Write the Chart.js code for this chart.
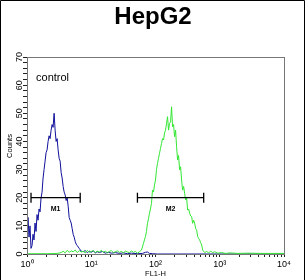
<!DOCTYPE html>
<html><head><meta charset="utf-8">
<script src="https://cdn.jsdelivr.net/npm/chart.js@4/dist/chart.umd.min.js"></script>
<style>html,body{margin:0;padding:0;background:#fff}#wrap{width:306px;height:280px;position:relative}</style>
</head><body><div id="wrap"><canvas id="c" width="306" height="280"></canvas></div>
<script>
// ---- data (FL1-H channel, 0..256 = 10^0..10^4) ----
const chartTitle = 'HepG2';
const xTitle = 'FL1-H';
const yTitle = 'Counts';
const xTickChannels = [0, 64, 128, 192, 256];
const xTickLabels = ['10\u2070', '10\u00B9', '10\u00B2', '10\u00B3', '10\u2074'];
const yTickValues = [0, 10, 20, 30, 40, 50, 60, 70];

const controlChannels = [0,1,2,3,4,5,6,7,8,9,10,11,12,13,14,15,16,17,18,19,20,21,22,23,24,25,26,27,28,29,30,31,32,33,34,35,36,37,38,39,40,41,42,43,44,45,46,47,48,49,50,52,54,56,58,60,62,64,66,68,70,72,75,78,81,84,88,92,96,100,104,110,115,118,120,122,125,130,150,180,220,256];
const controlCounts   = [4,13,6,10,2,3,7,5,11,8,14,12,16,15,20,22,27,30,33,36,37,40,42,41,44,46,45,50,44,40,41,37,34,33,29,27,24,22,21,19,20,17,13,12,11,9,7,6,4.5,3.5,3,2,1,0.8,1.2,0.5,1,0.6,1.1,0.4,0.8,0.5,0.9,0.3,0.6,0.3,0.5,0.2,0.4,0.1,0.3,0.1,0.2,0.6,0.7,0.2,0.1,0,0,0,0,0];

const sampleChannels = [0,10,20,30,34,36,38,40,42,44,46,48,50,52,54,56,58,60,62,64,66,68,70,72,74,76,78,80,82,84,86,88,90,92,94,96,98,100,102,104,106,108,110,112,114,115,116,117,118,119,120,121,122,123,124,125,126,127,128,129,130,131,132,133,134,135,136,137,138,139,140,141,142,143,144,145,146,147,148,149,150,151,152,153,154,155,156,157,158,159,160,161,162,163,164,165,166,167,168,169,170,171,172,173,174,175,177,179,181,183,185,187,190,194,198,202,210,220,235,256];
const sampleCounts   = [0.1,0.1,0.1,0.2,0.5,1.0,0.4,1.3,0.6,1.1,0.8,1.4,0.5,1.2,0.7,1.0,0.4,1.3,0.6,0.9,1.2,0.5,1.0,0.7,1.3,0.6,1.0,0.4,0.9,1.2,0.5,0.8,1.1,0.6,0.9,0.4,1.0,0.7,0.5,1.1,0.6,0.9,0.3,0.8,1.4,2.5,3.8,5,6.2,8,10.9,12.5,14.5,16,18,22.7,22,24.5,26.3,30,32.2,34,35.8,37.5,39.3,41,40.5,43,44,46.4,48.8,44,46.4,47,52.3,45.2,46,41.7,44,38.1,33.4,35,29.9,31,26.3,22.7,24,21.6,19.2,20,15.6,16,14.5,13.5,13.3,10.9,12,11,9,8.5,6.2,5.5,5,4,3.2,1.4,0.5,0.9,0.4,1.0,0.5,0.8,0.3,0.5,0.2,0.4,0.2,0.3,0.2,0.2];

const markerLabels = ['M1', 'M2'];
const markerStart = [4, 110];
const markerEnd   = [53, 176];
const markerLevel = 20;

const ctrlBlue = '#10109a';
const sampleGreen = '#33e633';

function pairs(xs, ys){ return xs.map((x,i)=>({x:x, y:ys[i]})); }

const datasets = [
  {label:'control', data:pairs(controlChannels, controlCounts), borderColor:ctrlBlue, borderWidth:1, pointRadius:0, tension:0, order:2},
  {label:'sample', data:pairs(sampleChannels, sampleCounts), borderColor:sampleGreen, borderWidth:1, pointRadius:0, tension:0, order:1},
];
markerLabels.forEach((m,i)=>{
  datasets.push({label:m, data:[{x:markerStart[i], y:markerLevel},{x:markerEnd[i], y:markerLevel}],
    borderColor:'#000', borderWidth:1.3, pointStyle:'line', pointRotation:90, pointRadius:5,
    pointBorderColor:'#000', pointBorderWidth:1.3, tension:0, order:0});
});

const decorPlugin = {
  id:'decor',
  afterDraw(chart){
    const ctx = chart.ctx, a = chart.chartArea, xs = chart.scales.x, ys = chart.scales.y;
    ctx.save();
    // frame
    ctx.strokeStyle = '#777'; ctx.lineWidth = 1;
    ctx.strokeRect(a.left + 0.5, a.top + 0.5, a.right - a.left, a.bottom - a.top);
    // outer border
    ctx.strokeStyle = '#000';
    ctx.beginPath(); ctx.moveTo(0.5, 280); ctx.lineTo(0.5, 0.5); ctx.lineTo(304.5, 0.5); ctx.lineTo(304.5, 280); ctx.stroke();
    ctx.fillStyle = '#000';
    // title
    ctx.font = 'bold 24px "Liberation Sans", Arial, sans-serif';
    ctx.textAlign = 'center'; ctx.textBaseline = 'alphabetic';
    ctx.fillText(chartTitle, 153, 24);
    // control label
    ctx.font = '11px "Liberation Sans", Arial, sans-serif';
    ctx.textAlign = 'left';
    ctx.fillText('control', xs.getPixelForValue(9), ys.getPixelForValue(61.5));
    // marker labels
    ctx.font = 'bold 7px "Liberation Sans", Arial, sans-serif';
    ctx.textAlign = 'center'; ctx.textBaseline = 'middle';
    markerLabels.forEach((m,i)=>{
      ctx.fillText(m, xs.getPixelForValue((markerStart[i]+markerEnd[i])/2), ys.getPixelForValue(16));
    });
    // axis titles
    ctx.font = '7.5px "Liberation Sans", Arial, sans-serif';
    ctx.fillText(xTitle, (a.left + a.right)/2, 274);
    ctx.translate(10, 146); ctx.rotate(-Math.PI/2);
    ctx.fillText(yTitle, 0, 0);
    ctx.restore();
  }
};

new Chart(document.getElementById('c'), {
  type:'line',
  data:{datasets:datasets},
  options:{
    responsive:false, animation:false,
    layout:{padding:{top:57, left:0, right:22, bottom:0}},
    plugins:{legend:{display:false}, tooltip:{enabled:false}, title:{display:false}},
    scales:{
      x:{type:'linear', min:0, max:256,
        afterFit(s){ s.height = 26; },
        afterBuildTicks(s){
          const t = [];
          for (let d = 0; d < xTickChannels.length - 1; d++) {
            for (let k = 1; k < 10; k++) t.push({value: xTickChannels[d] + 64*Math.log10(k)});
          }
          t.push({value: xTickChannels[xTickChannels.length-1]});
          s.ticks = t;
        },
        grid:{drawOnChartArea:false, drawTicks:true, tickLength:3, color:'#222'},
        border:{display:true, color:'#777'},
        ticks:{autoSkip:false, maxRotation:0, minRotation:0, padding:2, color:'#000',
          font:{size:9, family:'"Liberation Sans", Arial, sans-serif'},
          callback(v){ const i = xTickChannels.findIndex(c=>Math.abs(c-v)<0.01); return i>=0 ? xTickLabels[i] : ''; }}
      },
      y:{type:'linear', min:0, max:70,
        afterFit(s){ s.width = 27; },
        grid:{drawOnChartArea:false, drawTicks:true, tickLength:4, color:'#222'},
        border:{display:true, color:'#777'},
        ticks:{stepSize:2, autoSkip:false, minRotation:90, maxRotation:90, crossAlign:'center', padding:-2, color:'#000',
          font:{size:9, family:'"Liberation Sans", Arial, sans-serif'},
          callback(v){ return yTickValues.includes(v) ? String(v) : ''; }}
      }
    }
  },
  plugins:[decorPlugin]
});
</script></body></html>
